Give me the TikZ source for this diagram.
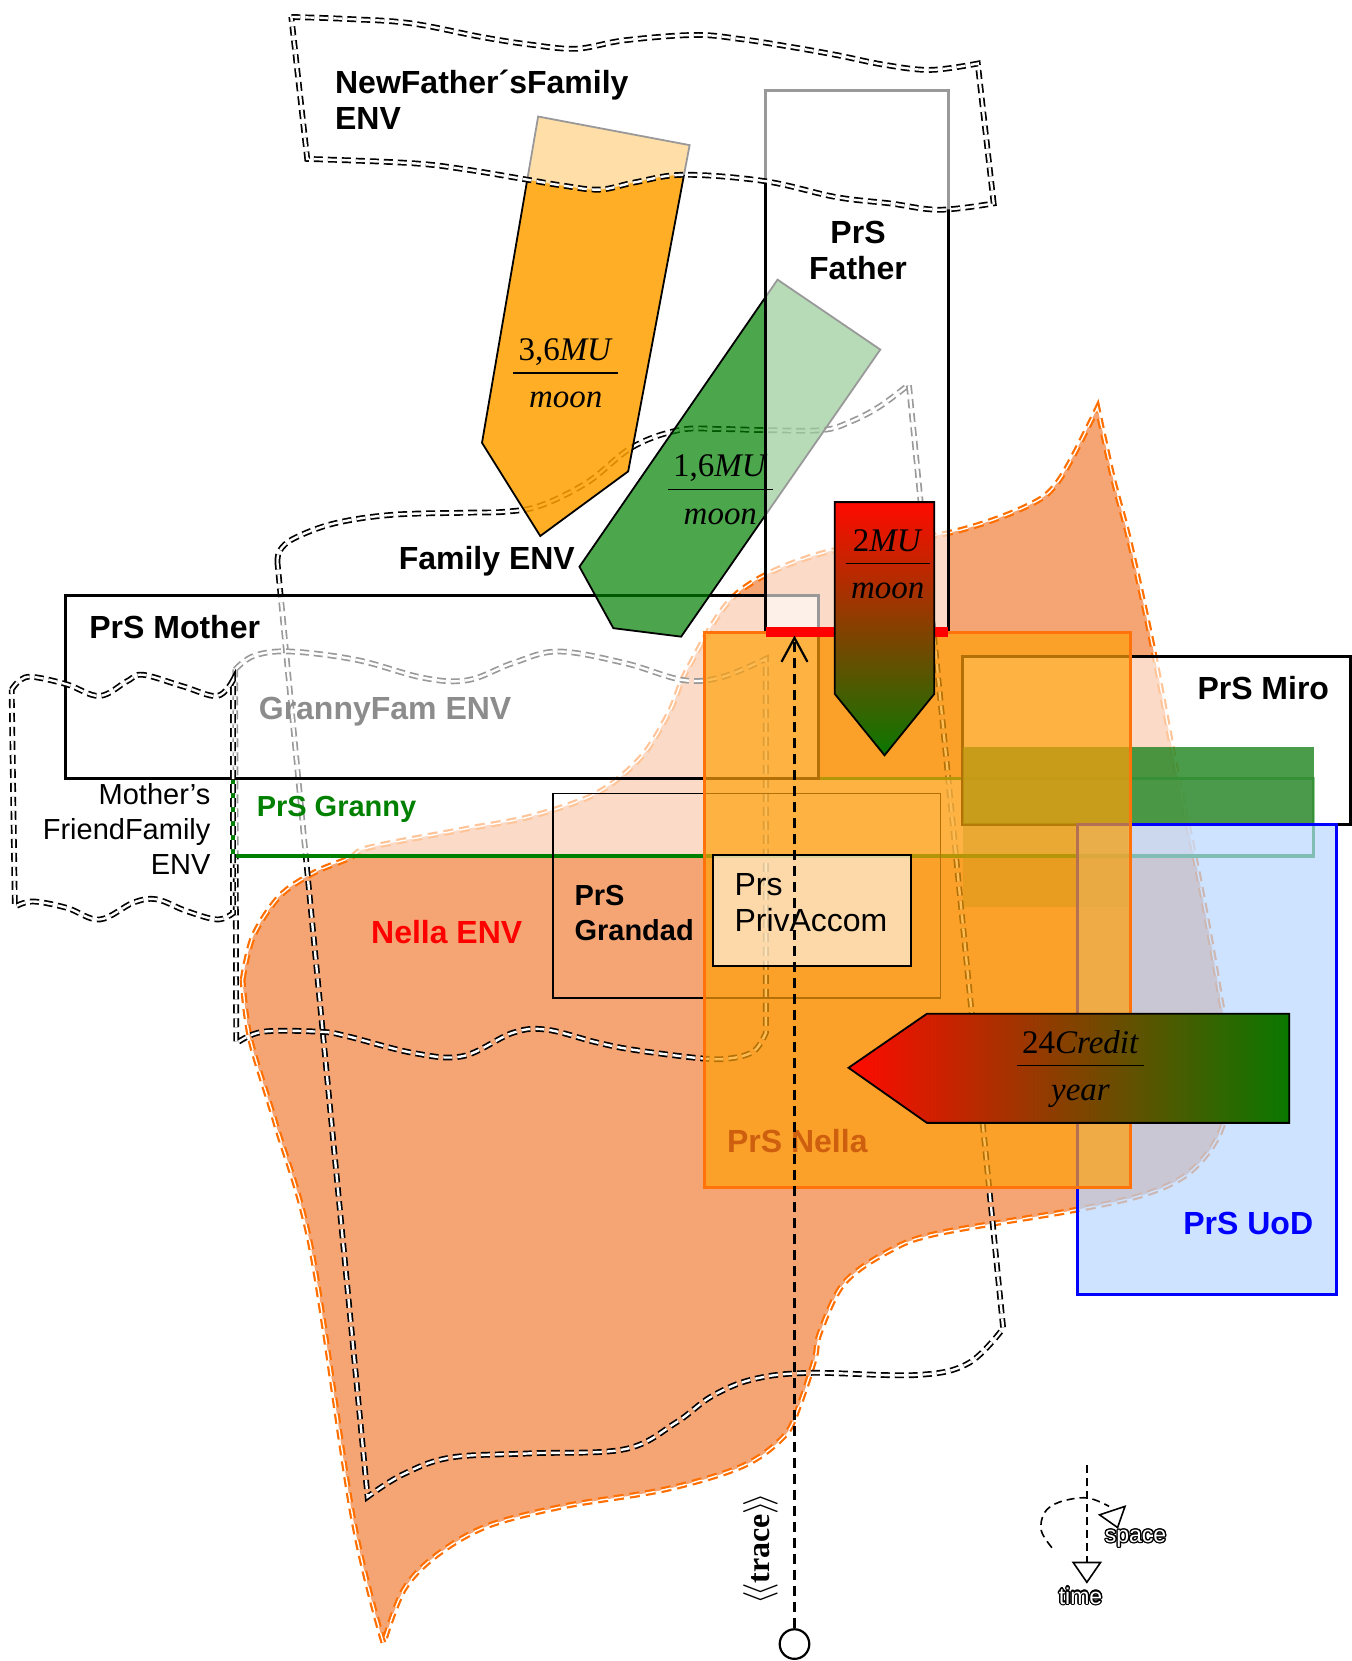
\documentclass[tikz,border=0pt]{standalone}
\usepackage{fontspec}
\setmainfont{Liberation Sans}
\newfontfamily\serifrm{Liberation Serif}
\usepackage[copies]{contour}
\contourlength{0.6pt}
\usetikzlibrary{arrows.meta, calc}

\definecolor{nellaenvfill}{RGB}{242,135,70}
\definecolor{nellaline}{RGB}{255,110,0}
\definecolor{nellabox}{RGB}{255,160,10}
\definecolor{nellaboxline}{RGB}{255,115,10}
\definecolor{nellatext}{RGB}{205,95,15}
\definecolor{uodfill}{RGB}{185,215,255}
\definecolor{uodline}{RGB}{0,0,255}
\definecolor{grannygreen}{RGB}{0,128,0}
\definecolor{bandgreen}{RGB}{30,130,30}
\definecolor{arroworange}{RGB}{255,160,0}
\definecolor{arrowgreen}{RGB}{0,128,0}
\definecolor{gradred}{RGB}{255,10,0}
\definecolor{gradgreen}{RGB}{10,120,0}

\setlength{\arrayrulewidth}{0.7pt}
\newcommand{\rate}[2]{{\serifrm\begin{tabular}{@{\,}c@{\,}}#1\\[0pt]\hline\rule{0pt}{17pt}\textit{#2}\end{tabular}}}

\begin{document}
\begin{tikzpicture}[
    x=0.5298pt, y=-0.5298pt,
    envline/.style={draw=black, double=white, double distance=1.2pt, line width=0.85pt, dash pattern=on 4.5pt off 2.5pt},
    nellaenv/.style={fill=nellaenvfill, fill opacity=0.75, draw=nellaline, double=white, double distance=0.7pt, line width=1.1pt, dash pattern=on 5pt off 3pt},
    whitebox/.style={fill=white, fill opacity=0.6, draw=black, line width=1.5pt},
    rateshape/.style={draw=black, line width=0.9pt},
    lbl/.style={font=\fontsize{16}{18}\selectfont\bfseries, inner sep=0pt},
    smalllbl/.style={font=\fontsize{14.5}{17.5}\selectfont\bfseries, inner sep=0pt},
    plain/.style={font=\fontsize{14.5}{17.5}\selectfont, inner sep=0pt},
    ratelbl/.style={font=\fontsize{16.5}{19.8}\selectfont, inner sep=0pt},
    legend/.style={font=\fontsize{11.5}{13}\selectfont, inner sep=0pt}
  ]
    \useasboundingbox (0,0) rectangle (1276,1568);

    % Nella ENV
    \draw[nellaenv] plot[smooth, tension=0.55] coordinates {(229,925) (239,884) (264,846) (296,824) (330,810) (349,800) (437,783) (500,771) (563,749) (605,715) (632,672) (650,630) (696,560) (777,522) (896,503) (969,478) (1000,453) (1036,385)}
      -- plot[smooth, tension=0.55] coordinates {(1036,385) (1051,453) (1066,510) (1088,610) (1111,730) (1132,830) (1150,930) (1160,1000) (1154,1063) (1126,1104) (1085,1126) (1016,1142) (887,1164) (841,1180) (797,1211) (774,1258) (769,1283) (754,1328) (740,1356) (701,1384) (628,1406) (532,1422) (459,1441) (411,1469) (381,1501) (362,1551)}
      -- plot[smooth, tension=0.55] coordinates {(362,1551) (333,1432) (294,1180) (260,1060) (236,980) (229,925)}
      -- cycle;

    % Family ENV
    \draw[envline] plot[smooth, tension=0.6] coordinates {(262,532) (264,520) (278,508) (316,494) (370,486) (440,484) (478,483) (511,477) (555,455) (597,422) (641,406) (680,405) (722,406) (776,406) (803,398) (830,384) (858,363)}
      -- plot[smooth, tension=0.6] coordinates {(947,1254) (914,1287) (865,1298) (764,1296) (711,1302) (672,1318) (638,1343) (590,1368) (500,1372) (425,1376) (380,1392) (347,1413)}
      -- cycle;

    % GrannyFam ENV
    \draw[envline] plot[smooth, tension=0.6] coordinates {(222,632) (240,619) (274,615) (337,623) (400,640) (442,642) (484,626) (527,615) (590,626) (645,642) (682,639) (723,622)}
      -- plot[smooth, tension=0.6] coordinates {(723,975) (712,992) (690,999) (661,999) (598,991) (563,984) (516,972) (484,975) (437,997) (390,994) (327,978) (302,974) (248,974) (223,985)}
      -- cycle;

    % 3,6 MU rate
    \draw[rateshape, fill=arroworange, fill opacity=0.85] (508,110) -- (651,137) -- (593,445) -- (510,506) -- (455,418) -- cycle;

    % boxes
    \draw[draw=grannygreen, line width=1.6pt, fill=white, fill opacity=0.6] (220,735) rectangle (1240,808);
    \draw[whitebox] (62,562) rectangle (773,735);

    % 1,6 MU rate
    \draw[rateshape, fill=arrowgreen, fill opacity=0.7] (734,264) -- (831,330) -- (643,601) -- (579,593) -- (547,535) -- cycle;

    \draw[whitebox] (723,85) rectangle (895,597);

    % NewFather's Family ENV
    \draw[envline, fill=white, fill opacity=0.6] plot[smooth, tension=0.6] coordinates {(275,16) (330,18) (388,22) (455,35) (500,42) (544,46) (590,38) (656,33) (700,37) (745,44) (790,52) (834,61) (878,66) (923,60)}
      -- plot[smooth, tension=0.6] coordinates {(938,192) (887,198) (840,192) (789,186) (722,171) (646,165) (600,172) (566,179) (530,175) (500,170) (440,160) (388,154) (290,150)}
      -- cycle;

    % Mother's FriendFamily ENV
    \draw[envline] plot[smooth, tension=0.6] coordinates {(11,651) (19,642) (31,639) (63,646) (94,657) (120,643) (135,637) (173,648) (205,657) (220,642)}
      -- plot[smooth, tension=0.6] coordinates {(220,862) (205,868) (176,860) (148,849) (126,852) (94,868) (63,857) (31,851) (14,856)}
      -- cycle;

    \draw[line width=0.8pt] (522,749) rectangle (888,942);
    \draw[whitebox] (909,620) rectangle (1275,778);
    \fill[bandgreen, fill opacity=0.8] (909,705) rectangle (1240,778);
    \fill[bandgreen, fill opacity=0.3] (909,778) rectangle (1065,856);
    \draw[draw=uodline, line width=1.6pt, fill=uodfill, fill opacity=0.7] (1017,778) rectangle (1262,1222);
    \draw[draw=nellaboxline, line width=1.6pt, fill=nellabox, fill opacity=0.7] (665,597) rectangle (1067,1121);
    \draw[whitebox, line width=1.2pt] (673,807) rectangle (860,912);
    \draw[red, line width=5pt] (723,597) -- (895,597);

    % 2 MU and 24 Credit rates
    \draw[rateshape, top color=gradred, bottom color=gradgreen] (788,474) -- (882,474) -- (882,655) -- (835,713) -- (788,655) -- cycle;
    \draw[rateshape, left color=gradred, right color=gradgreen] (801,1008) -- (875,957) -- (1217,957) -- (1217,1060) -- (875,1060) -- cycle;

    \node[ratelbl] (rNewFather) at (534,355) {\rate{3,6\textit{MU}}{moon}};
    \node[ratelbl] (rFamily) at (680,465) {\rate{1,6\textit{MU}}{moon}};
    \node[ratelbl] (rFather) at (838,535) {\rate{2\textit{MU}}{moon}};
    \node[ratelbl] (rUoD) at (1020,1009) {\rate{24\textit{Credit}}{year}};

    % labels
    \node[lbl, anchor=west, align=left] (lNewFather) at (316,94) {NewFather´sFamily\\ENV};
    \node[lbl, align=center] (lFather) at (810,236) {PrS\\Father};
    \node[lbl, anchor=east] (lFamily) at (543,530) {Family ENV};
    \node[lbl, anchor=west] (lMother) at (84,592) {PrS Mother};
    \node[lbl, anchor=west, text=black!45] (lGrannyFam) at (244,672) {GrannyFam ENV};
    \node[plain, anchor=east, align=right] (lFriend) at (199,783) {Mother’s\\FriendFamily\\ENV};
    \node[smalllbl, anchor=west, text=grannygreen] (lGranny) at (242,764) {PrS Granny};
    \node[lbl, anchor=west, text=red] (lNellaEnv) at (350,880) {Nella ENV};
    \node[smalllbl, anchor=west, align=left] (lGrandad) at (542,862) {PrS\\Grandad};
    \node[lbl, anchor=west, align=left, font=\fontsize{16}{18}\selectfont] (lPrivAccom) at (693,852) {Prs\\PrivAccom};
    \node[lbl, anchor=west, text=nellatext] (lNella) at (686,1077) {PrS Nella};
    \node[lbl, anchor=east] (lMiro) at (1255,650) {PrS Miro};
    \node[lbl, anchor=east, text=uodline] (lUoD) at (1240,1155) {PrS UoD};

    % trace
    \node[circle, draw, line width=1.1pt, minimum size=14.8pt, inner sep=0pt] (traceorigin) at (750,1552) {};
    \coordinate (tracetip) at (750,600);
    \draw[line width=1.1pt, dash pattern=on 5pt off 3pt, -{Straight Barb[length=12pt, width=13pt]}] (traceorigin) -- (tracetip);
    \node[font=\fontsize{16}{18}\selectfont\serifrm\bfseries, rotate=90, inner sep=0pt] (ltrace) at (718,1462) {$\langle\!\langle$trace$\rangle\!\rangle$};

    % space / time legend
    \coordinate (timetop) at (1026,1383);
    \coordinate (timetip) at (1026,1495);
    \draw[line width=0.8pt, dash pattern=on 4pt off 2.5pt, -{Triangle[open, length=11pt, width=15pt]}] (timetop) -- (timetip);
    \draw[line width=0.8pt, dash pattern=on 4pt off 2.5pt] plot[smooth, tension=0.6] coordinates {(993,1461) (983,1445) (986,1428) (1000,1418) (1026,1414) (1047,1422)};
    \draw[line width=0.8pt] (1038,1430) -- (1062,1422) -- (1055,1442) -- cycle;
    \node[legend] (lspace) at (1072,1453) {\contour{black}{\textcolor{white}{space}}};
    \node[legend] (ltime) at (1020,1507) {\contour{black}{\textcolor{white}{time}}};

\end{tikzpicture}
\end{document}
